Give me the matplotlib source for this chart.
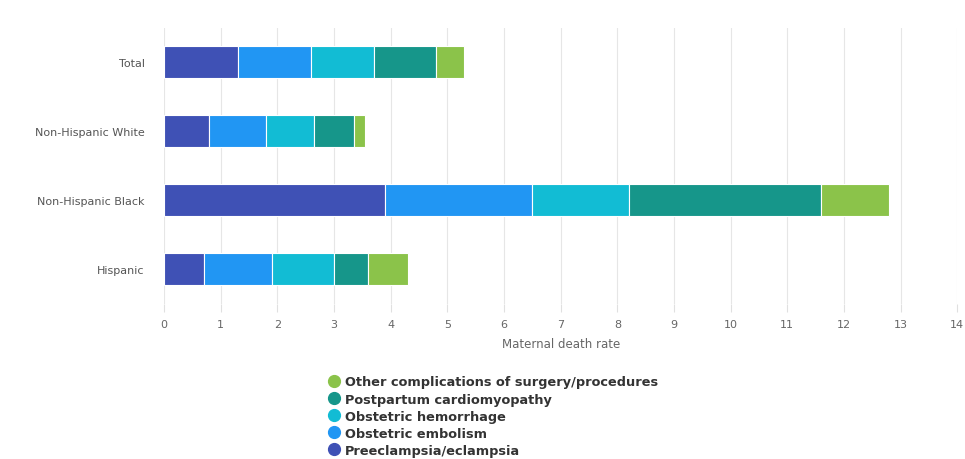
import matplotlib.pyplot as plt
from matplotlib.lines import Line2D
import numpy as np

groups = ['Total', 'Non-Hispanic White', 'Non-Hispanic Black', 'Hispanic']
causes = ['Preeclampsia/eclampsia', 'Obstetric embolism', 'Obstetric hemorrhage',
          'Postpartum cardiomyopathy', 'Other complications of surgery/procedures']
preeclampsia = [1.3, 0.8, 3.9, 0.7]
embolism = [1.3, 1.0, 2.6, 1.2]
hemorrhage = [1.1, 0.85, 1.7, 1.1]
cardiomyopathy = [1.1, 0.7, 3.4, 0.6]
other = [0.5, 0.2, 1.2, 0.7]
colors = ['#3f51b5', '#2196f3', '#12bcd4', '#16968a', '#8bc34a']

series = [preeclampsia, embolism, hemorrhage, cardiomyopathy, other]

fig = plt.figure(figsize=(9.65, 4.6), dpi=100)
ax = fig.add_axes([0.170, 0.338, 0.822, 0.600])

y = np.arange(len(groups))
left = np.zeros(len(groups))
for vals, col, name in zip(series, colors, causes):
    ax.barh(y, vals, left=left, height=0.47, color=col, edgecolor='white',
            linewidth=0.8, label=name, zorder=3)
    left += np.array(vals)

ax.set_ylim(3.5, -0.5)
ax.set_xlim(0, 14)
ax.set_xticks(range(0, 15))
ax.set_yticks(y)
ax.set_yticklabels(groups, fontsize=8, color='#555555')
ax.tick_params(axis='y', length=0, pad=14)
ax.tick_params(axis='x', length=6, color='#e0e0e0', labelsize=8,
               labelcolor='#666666', pad=5)
ax.grid(axis='x', color='#e6e6e6', linewidth=0.8, zorder=0)
for s in ax.spines.values():
    s.set_visible(False)
ax.set_xlabel('Maternal death rate', fontsize=8.5, color='#666666', labelpad=6)

handles = [Line2D([], [], marker='o', linestyle='', markersize=8.5,
                  markerfacecolor=c, markeredgecolor=c) for c in colors]
leg = fig.legend(handles[::-1], causes[::-1], loc='upper left',
                 bbox_to_anchor=(320 / 965, 1 - 370 / 460), frameon=False,
                 prop={'size': 9.3, 'weight': 'bold'}, labelspacing=0.32,
                 handletextpad=0.25, handlelength=1.2, borderpad=0)
for t in leg.get_texts():
    t.set_color('#333333')

fig.savefig('out.png', dpi=100)
